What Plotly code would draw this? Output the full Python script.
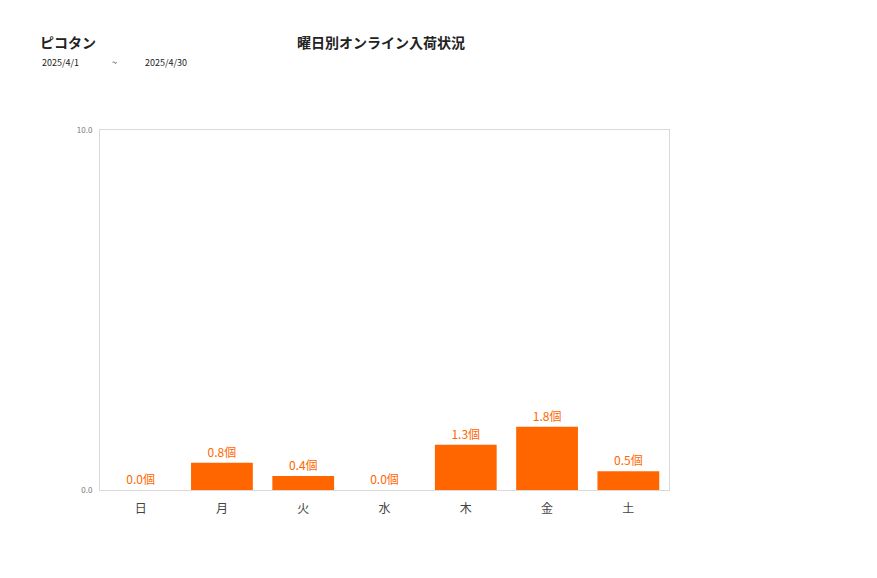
import plotly.graph_objects as go

days = ["日", "月", "火", "水", "木", "金", "土"]
values = [0.0, 0.76, 0.39, 0.0, 1.26, 1.76, 0.52]
labels = ["0.0個", "0.8個", "0.4個", "0.0個", "1.3個", "1.8個", "0.5個"]
y_ticks = [0, 10]
y_tick_text = ["0.0", "10.0"]

shop = "ピコタン"
title = "曜日別オンライン入荷状況"
date_from = "2025/4/1"
date_sep = "~"
date_to = "2025/4/30"

FONT = "Noto Sans CJK JP"
ORANGE = "#FF6600"

# page offset compensation (body margin)
OFF = 8
L, T, PW, PH = 100 - OFF, 130 - OFF, 569, 360

fig = go.Figure(go.Bar(
    x=days, y=values, text=labels, textposition="outside",
    textfont=dict(color=ORANGE, size=12, family=FONT),
    marker=dict(color=ORANGE, line=dict(width=0)),
    cliponaxis=False,
))


def px_ann(text, x, y, size, bold=False, anchor="left", color="#222222"):
    x -= OFF
    y -= OFF
    return dict(text=f"<b>{text}</b>" if bold else text,
                xref="paper", yref="paper",
                x=(x - L) / PW, y=1 - (y - T) / PH,
                xanchor=anchor, yanchor="middle", showarrow=False,
                font=dict(size=size, family=FONT, color=color))


fig.update_layout(
    width=877, height=578,
    margin=dict(l=L, r=877 - L - PW, t=T, b=578 - T - PH),
    paper_bgcolor="white", plot_bgcolor="white",
    bargap=0.24,
    showlegend=False,
    font=dict(family=FONT),
    xaxis=dict(showgrid=False, showline=True, linecolor="#d9d9d9", mirror=True,
               tickfont=dict(size=12, color="#444444"), ticks="outside",
               ticklen=8, tickcolor="rgba(0,0,0,0)", fixedrange=True),
    yaxis=dict(range=[0, 10], tickvals=y_ticks, ticktext=y_tick_text, showgrid=False,
               showline=True, linecolor="#d9d9d9", mirror=True, zeroline=False,
               tickfont=dict(size=8, color="#777777"), ticks="outside",
               ticklen=5, tickcolor="rgba(0,0,0,0)"),
    annotations=[
        px_ann(shop, 38, 42, 14, bold=True),
        px_ann(title, 381, 42, 14, bold=True, anchor="center"),
        px_ann(date_from, 40, 62, 9),
        px_ann(date_sep, 110, 62, 9),
        px_ann(date_to, 143, 62, 9),
    ],
)

fig.write_html("out.html")
